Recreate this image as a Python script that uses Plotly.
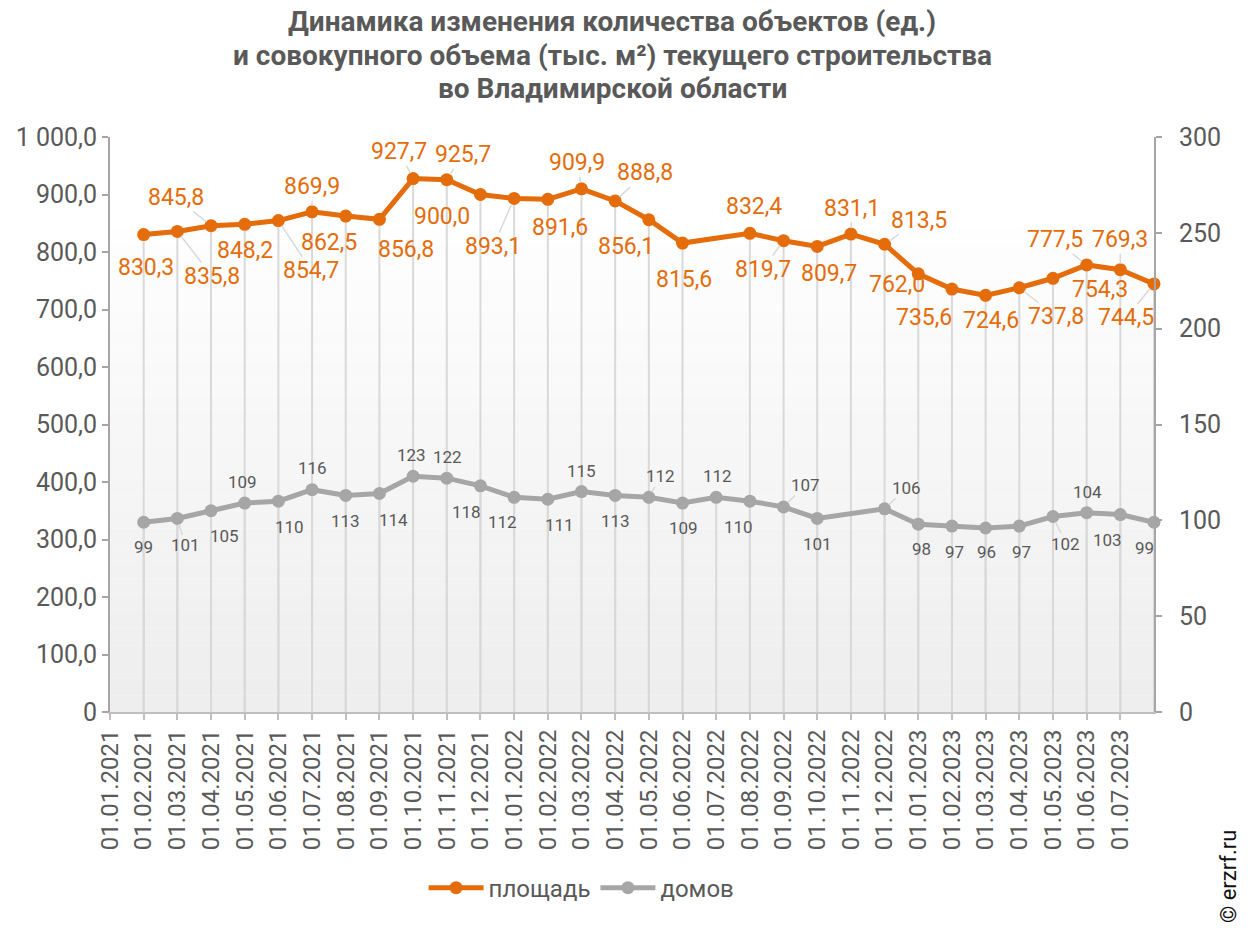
import plotly.graph_objects as go

# ---------------- data ----------------
tick_labels = [
    "01.01.2021", "01.02.2021", "01.03.2021", "01.04.2021", "01.05.2021", "01.06.2021",
    "01.07.2021", "01.08.2021", "01.09.2021", "01.10.2021", "01.11.2021", "01.12.2021",
    "01.01.2022", "01.02.2022", "01.03.2022", "01.04.2022", "01.05.2022", "01.06.2022",
    "01.07.2022", "01.08.2022", "01.09.2022", "01.10.2022", "01.11.2022", "01.12.2022",
    "01.01.2023", "01.02.2023", "01.03.2023", "01.04.2023", "01.05.2023", "01.06.2023",
    "01.07.2023",
]
area = [830.3, 835.8, 845.8, 848.2, 854.7, 869.9, 862.5, 856.8, 927.7, 925.7,
        900.0, 893.1, 891.6, 909.9, 888.8, 856.1, 815.6, None, 832.4, 819.7,
        809.7, 831.1, 813.5, 762.0, 735.6, 724.6, 737.8, 754.3, 777.5, 769.3, 744.5]
houses = [99, 101, 105, 109, 110, 116, 113, 114, 123, 122,
          118, 112, 111, 115, 113, 112, 109, 112, 110, 107,
          101, None, 106, 98, 97, 96, 97, 102, 104, 103, 99]
positions = list(range(1, len(area) + 1))
title_lines = [
    "Динамика изменения количества объектов (ед.)",
    "и совокупного объема (тыс. м²) текущего строительства",
    "во Владимирской области",
]

# ---------------- label placement (styling) ----------------
area_off = [(2, 33), (35, 45), (-35, -28), (0, 26), (33, 50), (0, -25), (-17, 26), (27, 30),
            (-14, -27), (16, -25), (-38, 22), (-21, 48), (12, 28), (-4, -26), (30, -28),
            (-23, 27), (1, 36), (0, 0), (4, -27), (-21, 29), (12, 27), (1, -26), (34, -24),
            (-21, 11), (-28, 28), (5, 25), (37, 29), (47, 11), (-32, -25), (0, -30), (-28, 34)]
area_leader = {2, 3, 5, 6, 9, 10, 12, 14, 15, 20, 22, 23, 27, 29, 30, 31}
houses_off = [(0, 25), (8, 27), (13, 25), (-2, -21), (11, 26), (0, -22), (0, 26), (14, 26),
              (-2, -21), (1, -21), (-14, 26), (-12, 25), (12, 26), (0, -21), (0, 26),
              (12, -21), (1, 25), (1, -21), (-11, 26), (22, -22), (0, 26), (0, 0), (22, -21),
              (3, 25), (3, 26), (1, 24), (2, 26), (13, 27), (1, -21), (-13, 25), (-10, 26)]
houses_leader = {2, 16, 20, 23, 28}
title_y = [1.2017, 1.1426, 1.0852]

ORANGE = "#E46C0A"
GRAY = "#A6A6A6"
TEXT = "#595959"
DROP = "#D9D9D9"
FONT = "Roboto"

fig = go.Figure()

# drop lines
dx, dy = [], []
for x, v in zip(positions, area):
    if v is not None:
        dx += [x, x, None]
        dy += [v, 0, None]
fig.add_trace(go.Scatter(x=dx, y=dy, mode="lines", line=dict(color=DROP, width=2),
                         showlegend=False, hoverinfo="skip", yaxis="y"))
gx, gy = [], []
for x, v in zip(positions, houses):
    if v is not None:
        gx += [x, x, None]
        gy += [v, 0, None]
fig.add_trace(go.Scatter(x=gx, y=gy, mode="lines", line=dict(color=DROP, width=2),
                         showlegend=False, hoverinfo="skip", yaxis="y2"))

fig.add_trace(go.Scatter(x=positions, y=area, name="площадь", mode="lines+markers",
                         connectgaps=True, line=dict(color=ORANGE, width=5),
                         marker=dict(size=13, color=ORANGE), cliponaxis=False, yaxis="y"))
fig.add_trace(go.Scatter(x=positions, y=houses, name="домов", mode="lines+markers",
                         connectgaps=True, line=dict(color=GRAY, width=5),
                         marker=dict(size=13, color=GRAY), cliponaxis=False, yaxis="y2"))

annotations = []
for i, (x, v) in enumerate(zip(positions, area)):
    if v is None:
        continue
    ox, oy = area_off[i]
    annotations.append(dict(
        x=x, y=v, xref="x", yref="y", ax=ox, ay=oy, axref="pixel", ayref="pixel",
        text=f"{v:.1f}".replace(".", ","), showarrow=True, arrowhead=0, arrowwidth=1.5,
        arrowcolor=DROP if (i + 1) in area_leader else "rgba(0,0,0,0)", standoff=6,
        font=dict(family=FONT, size=23, color=ORANGE), borderpad=0))
for i, (x, v) in enumerate(zip(positions, houses)):
    if v is None:
        continue
    ox, oy = houses_off[i]
    annotations.append(dict(
        x=x, y=v, xref="x", yref="y2", ax=ox, ay=oy, axref="pixel", ayref="pixel",
        text=str(v), showarrow=True, arrowhead=0, arrowwidth=1.5,
        arrowcolor=DROP if (i + 1) in houses_leader else "rgba(0,0,0,0)", standoff=6,
        font=dict(family=FONT, size=17, color=TEXT), borderpad=0))

# title (three lines for tighter spacing)
for line, ty in zip(title_lines, title_y):
    annotations.append(dict(
        text=f"<b>{line}</b>", xref="paper", yref="paper", x=0.481, y=ty,
        xanchor="center", yanchor="middle", showarrow=False,
        font=dict(family=FONT, size=28, color=TEXT)))

annotations.append(dict(
    text="© erzrf.ru", xref="paper", yref="paper", x=1.0709, y=-0.287, showarrow=False,
    xanchor="center", yanchor="middle",
    textangle=-90, font=dict(family=FONT, size=22, color="#111111")))

# background gradient bands (white at top -> light gray at bottom)
shapes = []
n = 30
top = 0.87
for k in range(n):
    y0 = top * k / n
    y1 = top * (k + 1) / n
    t = k / (n - 1)
    c = int(238 + (255 - 238) * t)
    shapes.append(dict(type="rect", xref="x domain", yref="y domain", x0=0, x1=1, y0=y0, y1=y1,
                       fillcolor=f"rgb({c},{c},{c})", line=dict(width=0), layer="below"))

yvals = list(range(0, 1001, 100))
ytext = ["0"] + [f"{v:,.1f}".replace(",", " ").replace(".", ",") for v in yvals[1:]]

fig.update_layout(
    width=1248, height=928,
    margin=dict(l=110, r=94, t=137, b=216),
    paper_bgcolor="white", plot_bgcolor="white",
    font=dict(family=FONT, color=TEXT),
    xaxis=dict(range=[0, 31], tickmode="array", tickvals=list(range(len(tick_labels))),
               ticktext=tick_labels, tickangle=-90, ticks="outside", ticklen=6,
               tickcolor="#BFBFBF", tickwidth=2, showline=True, linecolor="#BFBFBF",
               linewidth=2, showgrid=False, zeroline=False,
               tickfont=dict(family=FONT, size=24, color=TEXT)),
    yaxis=dict(range=[0, 1000], tickmode="array", tickvals=yvals, ticktext=ytext,
               ticks="outside", ticklen=6, tickcolor="#A6A6A6", tickwidth=2,
               showline=True, linecolor="#A6A6A6", linewidth=2, showgrid=False,
               zeroline=False, tickfont=dict(family=FONT, size=25, color=TEXT)),
    yaxis2=dict(range=[0, 300], overlaying="y", side="right", tickmode="linear", tick0=0,
                dtick=50, ticks="outside", ticklen=6, tickcolor="#A6A6A6", tickwidth=2,
                showline=True, linecolor="#A6A6A6", linewidth=2, showgrid=False,
                zeroline=False, ticklabelstandoff=12,
                tickfont=dict(family=FONT, size=25, color=TEXT)),
    legend=dict(orientation="h", xref="container", yref="container", x=0.466, y=0.043,
                xanchor="center", yanchor="middle", itemwidth=55,
                font=dict(family=FONT, size=24, color=TEXT), bgcolor="rgba(0,0,0,0)"),
    annotations=annotations,
    shapes=shapes,
    showlegend=True,
)

fig.write_html("out.html")
